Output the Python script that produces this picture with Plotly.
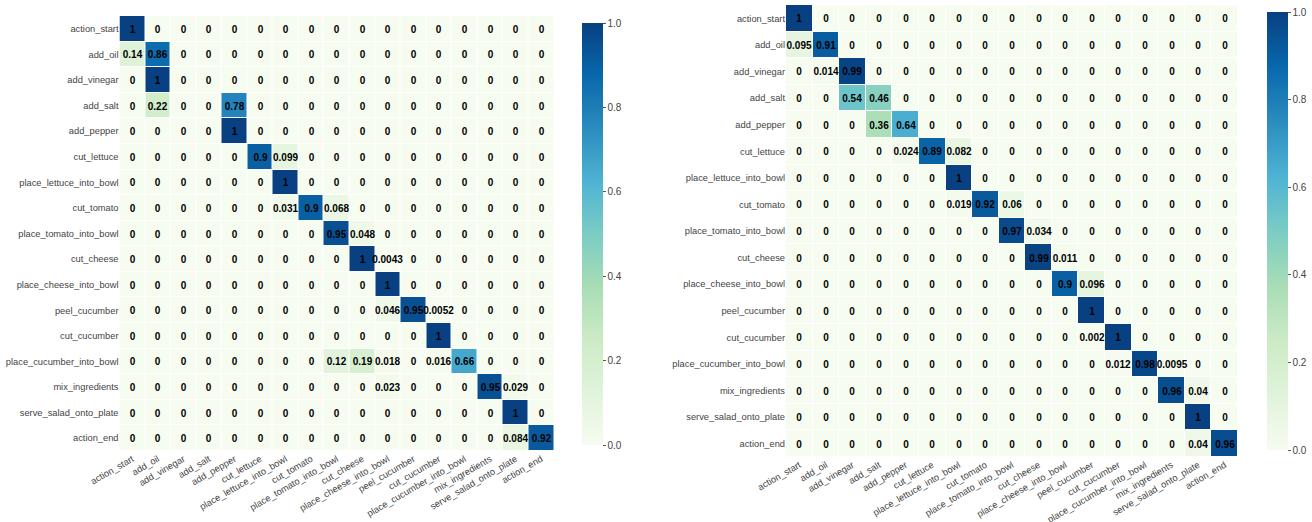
import plotly.graph_objects as go

labels = ["action_start", "add_oil", "add_vinegar", "add_salt", "add_pepper",
          "cut_lettuce", "place_lettuce_into_bowl", "cut_tomato", "place_tomato_into_bowl",
          "cut_cheese", "place_cheese_into_bowl", "peel_cucumber", "cut_cucumber",
          "place_cucumber_into_bowl", "mix_ingredients", "serve_salad_onto_plate", "action_end"]

# non-zero entries: (row, col, value); all other cells are 0
left_nonzero = [
    (0, 0, 1), (1, 0, 0.14), (1, 1, 0.86), (2, 1, 1), (3, 1, 0.22), (3, 4, 0.78),
    (4, 4, 1), (5, 5, 0.9), (5, 6, 0.099), (6, 6, 1), (7, 6, 0.031), (7, 7, 0.9),
    (7, 8, 0.068), (8, 8, 0.95), (8, 9, 0.048), (9, 9, 1), (9, 10, 0.0043),
    (10, 10, 1), (11, 10, 0.046), (11, 11, 0.95), (11, 12, 0.0052), (12, 12, 1),
    (13, 8, 0.12), (13, 9, 0.19), (13, 10, 0.018), (13, 12, 0.016), (13, 13, 0.66),
    (14, 10, 0.023), (14, 14, 0.95), (14, 15, 0.029), (15, 15, 1),
    (16, 15, 0.084), (16, 16, 0.92),
]
right_nonzero = [
    (0, 0, 1), (1, 0, 0.095), (1, 1, 0.91), (2, 1, 0.014), (2, 2, 0.99),
    (3, 2, 0.54), (3, 3, 0.46), (4, 3, 0.36), (4, 4, 0.64), (5, 4, 0.024),
    (5, 5, 0.89), (5, 6, 0.082), (6, 6, 1), (7, 6, 0.019), (7, 7, 0.92),
    (7, 8, 0.06), (8, 8, 0.97), (8, 9, 0.034), (9, 9, 0.99), (9, 10, 0.011),
    (10, 10, 0.9), (10, 11, 0.096), (11, 11, 1), (12, 11, 0.002), (12, 12, 1),
    (13, 12, 0.012), (13, 13, 0.98), (13, 14, 0.0095), (14, 14, 0.96),
    (14, 15, 0.04), (15, 15, 1), (16, 15, 0.04), (16, 16, 0.96),
]


def build(entries):
    n = len(labels)
    z = [[0.0] * n for _ in range(n)]
    for r, c, v in entries:
        z[r][c] = v
    return z


W, H = 1312, 522
gnbu = [[0.0, "#f7fcf0"], [0.125, "#e0f3db"], [0.25, "#ccebc5"], [0.375, "#a8ddb5"],
        [0.5, "#7bccc4"], [0.625, "#4eb3d3"], [0.75, "#2b8cbe"], [0.875, "#0868ac"],
        [1.0, "#084081"]]
FONT = "Liberation Sans, Arial"


def cbar(x0, top, bottom):
    return dict(x=x0 / W, xanchor="left", y=1 - (top + bottom) / 2 / H, yanchor="middle",
                len=(bottom - top) / H, lenmode="fraction", thickness=21, thicknessmode="pixels",
                xpad=0, ypad=0, outlinewidth=0, ticks="outside", ticklen=3, tickcolor="#555",
                tickvals=[0, 0.2, 0.4, 0.6, 0.8, 1.0], tickformat=".1f",
                tickfont=dict(family=FONT, size=10, color="#444"))


fig = go.Figure()
fig.add_trace(go.Heatmap(
    z=build(left_nonzero), x=labels, y=labels, colorscale=gnbu, zmin=0, zmax=1,
    xgap=1, ygap=1, texttemplate="%{z:.2~g}",
    textfont=dict(family=FONT, size=10, color="black", weight="bold"),
    colorbar=cbar(582, 23, 445), xaxis="x", yaxis="y", hoverinfo="skip"))
fig.add_trace(go.Heatmap(
    z=build(right_nonzero), x=labels, y=labels, colorscale=gnbu, zmin=0, zmax=1,
    xgap=1, ygap=1, texttemplate="%{z:.2~g}",
    textfont=dict(family=FONT, size=10, color="black", weight="bold"),
    colorbar=cbar(1267, 12, 450), xaxis="x2", yaxis="y2", hoverinfo="skip"))

tickfont = dict(family=FONT, size=9.3, color="#444")
ax = dict(showgrid=False, zeroline=False, showline=False, ticks="", tickfont=tickfont,
          automargin=False, fixedrange=True)

fig.update_layout(
    width=W, height=H, margin=dict(l=0, r=0, t=0, b=0),
    paper_bgcolor="white", plot_bgcolor="white",
    xaxis=dict(ax, domain=[119.5 / W, 554 / W], anchor="y", tickangle=-30),
    yaxis=dict(ax, domain=[1 - 451 / H, 1 - 16 / H], anchor="x", autorange="reversed"),
    xaxis2=dict(ax, domain=[786 / W, 1238 / W], anchor="y2", tickangle=-30),
    yaxis2=dict(ax, domain=[1 - 457 / H, 1 - 5 / H], anchor="x2", autorange="reversed"),
)

fig.write_html("out.html", config={"displayModeBar": False},
               post_script="document.body.style.margin='0';")
